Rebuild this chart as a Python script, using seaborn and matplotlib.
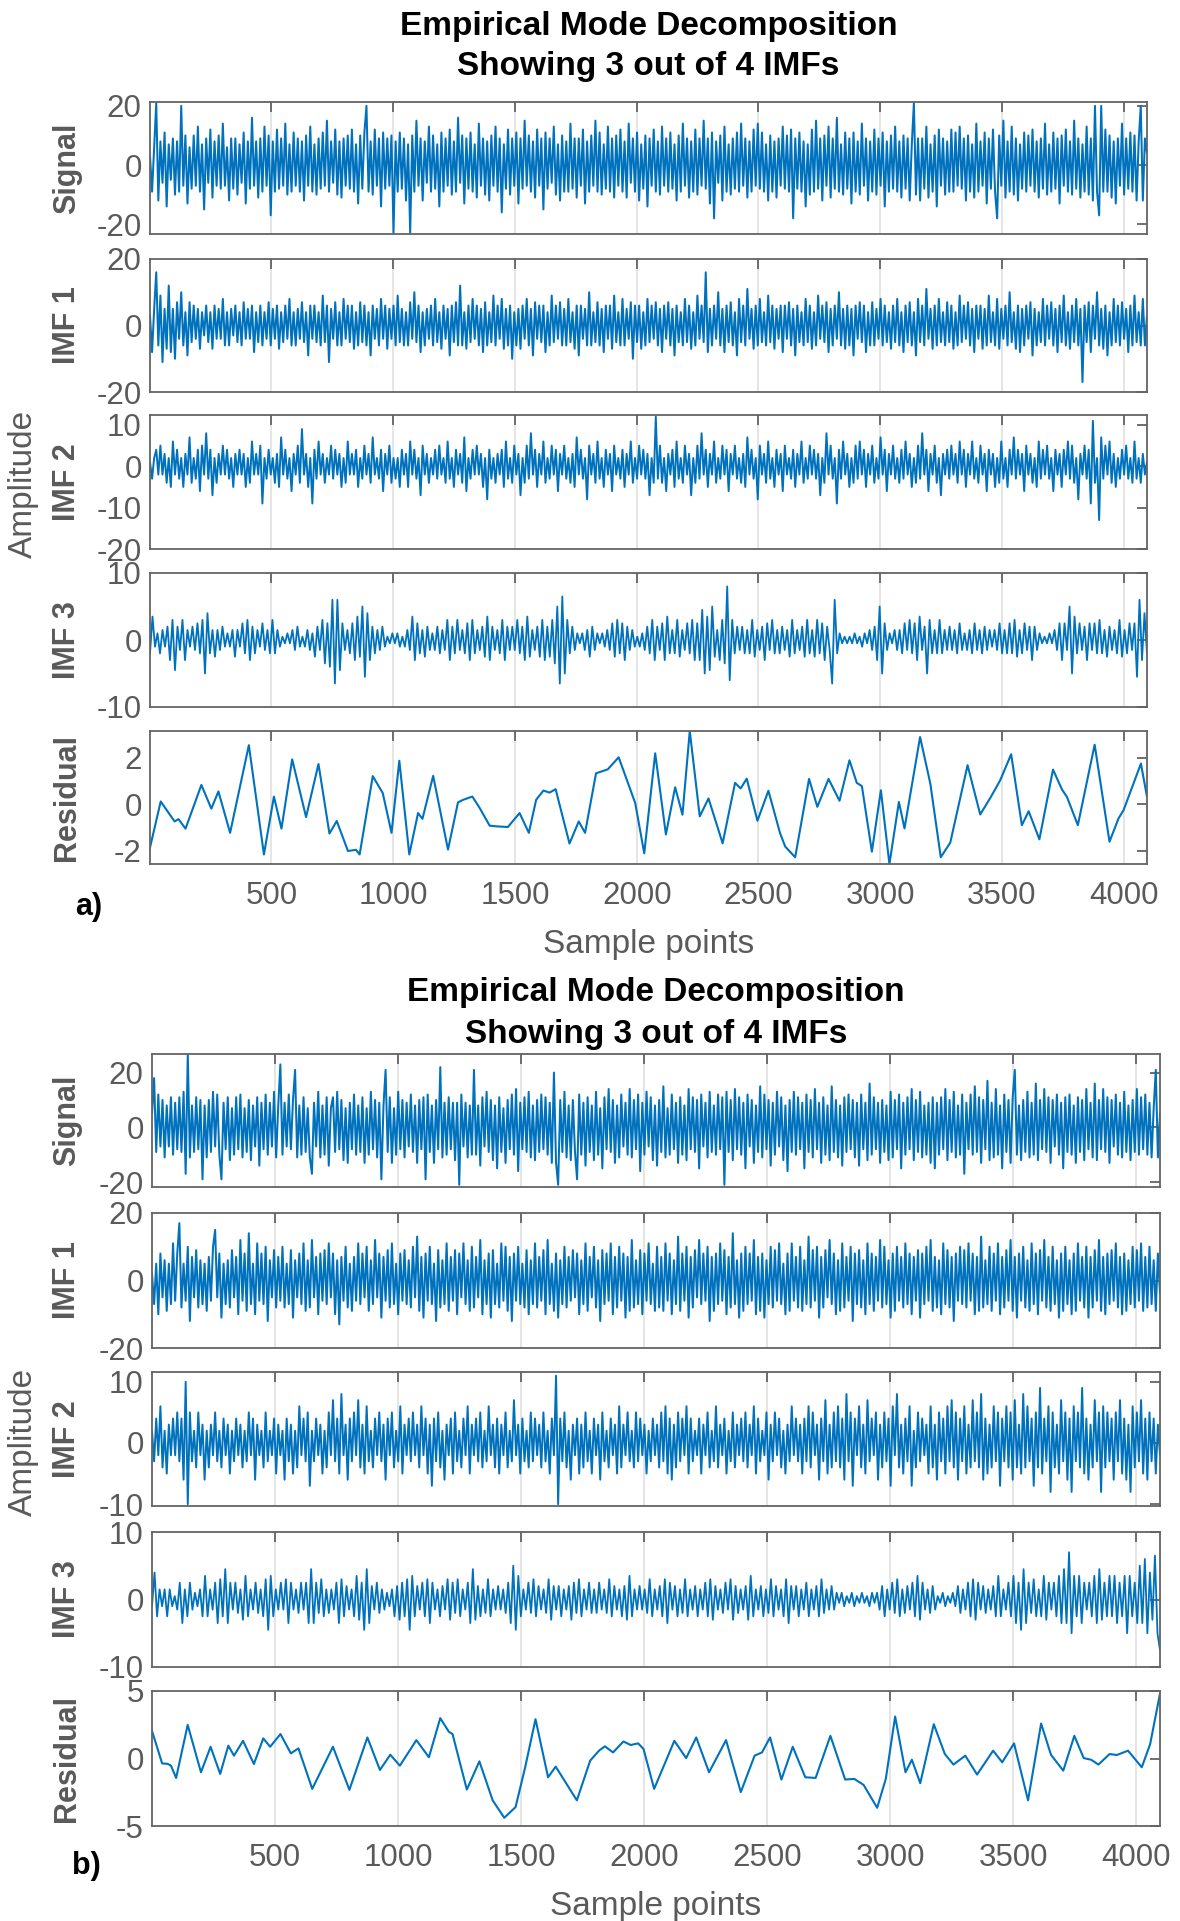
import numpy as np
import pandas as pd
import matplotlib
matplotlib.use("Agg")
import matplotlib.pyplot as plt
import seaborn as sns

# ---------------- data ----------------
N_SAMPLES = 4096
row_names = ["Signal", "IMF 1", "IMF 2", "IMF 3", "Residual"]
x_ticks = [500, 1000, 1500, 2000, 2500, 3000, 3500, 4000]
title_line1 = "Empirical Mode Decomposition"
title_line2 = "Showing 3 out of 4 IMFs"

# panel a)
sig_a = [3,-9,6,21,-12,8,-6,11,-14,7,-5,9,-10,8,-9,20,-7,10,-13,6,-8,10,-7,13,
         -9,7,-15,9,-6,12,-11,8,-7,10,-8,14,-7,6,-12,9,-8,9,-10,7,-6,11,-13,8,
         -8,16,-7,8,-11,9,-9,13,-7,10,-17,8,-9,12,-8,9,-7,14,-10,7,-9,11,-7,9,
         -9,8,-12,10,-7,13,-9,7,-10,9,-8,11,-7,15,-9,8,-6,12,-10,8,-11,9,-7,10,
         -8,12,-9,7,-13,10,-8,11,20,-9,8,-10,12,-7,9,-14,11,-8,9,-7,10,-23,8,-9,
         11,-8,9,-12,7,-23,10,-9,15,-7,9,-12,8,-6,13,-9,10,-8,7,-14,11,-9,9,-7,
         12,-10,8,-9,16,-6,10,-13,9,-8,11,-9,7,-11,14,-7,9,-10,8,-12,10,-7,13,-9,
         9,-16,7,-8,12,-10,9,-7,11,-13,9,-8,15,-7,10,-9,8,-11,12,-7,9,-15,11,-8,
         9,-6,13,-10,7,-12,10,-9,8,-9,14,-8,9,-11,9,-7,12,-13,8,-9,10,-7,15,-9,
         11,-10,7,-8,13,-9,9,-11,10,-7,12,-9,8,-11,14,-6,9,-9,11,-12,7,-8,10,-14,
         9,-7,12,-9,8,-10,13,-7,9,-9,11,-8,7,-12,10,-9,14,-7,9,-11,8,-9,12,-10,
         9,-7,15,-8,9,-13,11,-18,8,-6,10,-12,13,-9,7,-10,9,-8,11,-9,14,-7,9,-11,
         8,-9,12,-7,14,-8,11,-9,7,-12,10,-9,8,-11,9,-7,13,-8,10,-9,12,-18,9,-8,
         11,-9,8,-14,7,-10,12,-9,15,-8,9,-12,10,-7,13,-11,9,-8,16,-9,7,-10,11,-8,
         9,-13,11,-9,8,-10,14,-7,9,-12,8,-9,12,-10,9,-7,11,-14,8,-9,10,-8,13,-9,
         8,-11,10,-8,9,-12,7,21,-10,9,-12,9,-8,13,-11,7,-9,10,-14,12,-7,9,-10,8,
         -9,12,-9,11,-7,13,-8,9,-12,10,-9,7,-11,14,-9,8,-7,11,-13,9,-8,12,-9,-18,
         10,-7,15,-11,8,-9,13,-10,9,-12,7,-8,11,-9,10,-7,12,-9,8,-11,9,-8,14,-10,
         7,-9,11,-8,9,-13,10,-7,12,-9,8,-10,15,-8,9,-11,7,-9,13,-10,9,-12,20,-9,
         -17,20,-9,12,-9,10,-11,8,-13,9,-7,14,-10,9,-8,11,-9,10,-12,8,20,-12,9,4]
imf1_a = [3,-8,5,16,-6,9,-11,5,-7,12,-8,5,-10,7,-4,10,-6,4,-9,7,-5,6,-4,5,
          -7,4,-3,6,-5,4,-7,6,-4,5,-4,8,-6,4,-6,5,-3,6,-5,4,-6,7,-4,5,
          -4,6,-8,4,-5,6,-6,4,-4,7,-6,5,-4,6,-7,4,-5,6,-4,8,-6,4,-6,5,
          -4,7,-5,4,-9,6,-4,6,-5,4,-6,9,-5,6,-11,5,-4,7,-6,4,-6,8,-4,6,
          -5,6,-7,4,-6,7,-5,6,-6,4,-9,6,-4,5,-6,8,-4,6,-7,5,-4,6,-6,9,
          -5,5,-6,4,-6,7,-4,10,-5,6,-8,4,-6,5,-4,6,-6,8,-5,4,-7,6,-4,5,
          -9,6,-5,7,-6,12,-6,4,-7,6,-5,8,-4,6,-6,5,-8,7,-6,4,-5,9,-6,6,
          -4,8,-7,5,-6,6,-10,4,-6,5,-7,6,-4,8,-6,5,-9,7,-4,6,-5,6,-8,4,
          -6,9,-5,6,-4,7,-6,5,-6,8,-5,4,-7,6,-9,6,-4,5,-6,10,-6,4,-5,7,
          -6,5,-8,6,-4,6,-7,9,-5,4,-6,8,-6,5,-4,7,-10,6,-5,6,-7,4,-6,8,
          -5,6,-4,7,-6,5,-8,6,-4,7,-6,5,-9,6,-5,4,-6,8,-5,6,-7,4,-6,9,
          -4,6,-5,16,-8,5,-6,6,-4,10,-6,5,-8,6,-5,7,-6,4,-9,8,-5,6,-6,11,
          -4,5,-7,6,-6,8,-5,4,-6,9,-5,6,-7,5,-4,6,-8,6,-4,7,-6,5,-9,6,
          -5,4,-6,8,-5,6,-7,4,-6,9,-4,6,-5,7,-8,5,-6,6,-4,10,-6,5,-7,6,
          -6,5,-9,6,-4,7,-5,6,-8,4,-6,7,-6,5,-4,8,-6,6,-5,4,-7,6,-5,8,
          -6,4,-8,6,-5,7,-6,4,-9,8,-5,6,-6,11,-4,5,-7,6,-6,8,-5,4,-6,7,
          -5,6,-7,4,-6,9,-5,6,-4,7,-6,5,-8,6,-4,6,-7,5,-6,9,-5,4,-6,8,
          -7,5,-4,6,-6,10,-5,4,-7,6,-8,5,-6,6,-4,7,-9,5,-6,4,-5,8,-6,6,
          -4,7,-6,5,-8,6,-5,9,-6,4,-7,6,-5,8,-6,5,-17,6,-5,7,-8,6,-4,10,
          -6,5,-7,6,-9,4,-6,8,-5,6,-6,7,-4,5,-8,6,-6,9,-5,4,-6,8,-6,3]
imf2_a = [1,-3,2,4,-2,5,-2,3,-4,2,-5,6,-2,4,-3,2,-5,3,-2,7,-4,2,-3,4,
          -6,5,-2,8,-3,4,-7,2,-4,3,-2,5,-2,4,-3,2,-5,3,-2,4,-2,3,-5,2,
          -4,6,-2,3,-2,5,-9,2,-3,4,-2,2,-4,3,-5,7,-2,4,-3,2,-6,3,-2,5,
          -4,9,-2,3,-5,2,-9,4,-3,6,-2,3,-4,2,-2,5,-3,4,-2,3,-5,2,-4,6,
          -2,3,-2,4,-5,2,-3,5,-2,3,-4,7,-2,2,-3,4,-6,3,-2,5,-4,2,-3,2,
          -5,4,-2,3,-5,6,-2,4,-3,2,-7,5,-2,3,-4,2,-2,4,-3,5,-2,2,-4,6,
          -3,2,-5,4,-2,3,-4,7,-6,2,-3,4,-2,5,-2,3,-5,2,-8,4,-3,2,-4,3,
          -2,4,-5,6,-3,2,-4,5,-2,3,-7,2,-4,5,-3,8,-2,4,-5,3,-2,6,-4,2,
          -3,5,-2,4,-6,3,-2,5,-3,2,-4,3,-5,7,-2,4,-3,2,-8,5,-2,3,-4,6,
          -3,2,-5,4,-2,3,-6,5,-2,2,-3,4,-5,3,-2,6,-4,2,-3,5,-2,4,-3,3,
          -7,2,-4,12,-3,5,-4,2,-6,3,-2,4,-5,6,-3,2,-4,5,-2,3,-7,2,-4,5,
          -3,8,-2,4,-5,3,-2,6,-4,2,-3,5,-2,4,-6,3,-2,5,-3,2,-4,3,-5,7,
          -2,4,-3,2,-8,5,-2,3,-4,6,-3,2,-5,4,-2,3,-6,5,-2,2,-3,4,-5,3,
          -2,6,-4,2,-3,5,-2,4,-3,3,-7,2,-4,8,-2,5,-3,2,-9,4,-3,6,-2,3,
          -5,2,-4,5,-3,6,-2,4,-5,3,-2,5,-4,2,-3,7,-2,4,-6,3,-2,5,-3,2,
          -4,4,-3,6,-2,3,-5,2,-4,5,-3,8,-2,4,-6,3,-2,5,-4,2,-7,3,-2,4,
          -3,5,-2,3,-4,6,-2,4,-5,3,-2,6,-3,2,-4,5,-2,3,-6,4,-2,3,-5,2,
          -4,6,-3,2,-5,4,-2,7,-3,4,-2,3,-6,5,-2,3,-4,2,-5,6,-3,4,-2,5,
          -3,2,-6,4,-2,3,-5,4,-2,6,-3,5,-4,2,-8,3,-2,5,-3,4,-9,11,-4,2,
          -13,7,-3,5,-2,6,-4,3,-5,2,-3,4,-2,5,-3,2,-4,6,-3,2,-4,3,-2,1]
imf3_a = [-2,3.5,-1,1,-2,1.5,-1,2,-3,3,-4.5,2,-1.5,3,-3,1.5,-1,2,-1.5,2.5,
          -2,3,-5,4,-2,1.5,-2.5,1.5,-1.5,2,-1,1,-1,1.5,-2.5,1.5,-1,2.5,-2,3,
          -3,2,-2,1.5,-1,2.5,-1.5,1.5,-2,3,-2,1.5,-1,0.5,-0.5,1,-0.5,1.5,-1.5,2,
          -1,0.5,-1,1.5,-1.5,1,-2.5,2,-1.5,3,-3.5,2.5,-4,6,-6.5,6,-4.5,2.5,-1.5,1.5,
          -2,2.5,-3,3.5,-2.5,5,-5.5,4,-3,2,-2,1.5,-1.5,2,-1,0.5,-0.5,1,-0.5,1,
          -1,0.5,-1,1.5,-1.5,3.5,-3,2.5,-2,1.5,-2.5,2,-1.5,1,-1.5,2,-2,1.5,-1.5,3,
          -3,2,-2,3,-1.5,1.5,-2,2.5,-3,3,-2,1.5,-1.5,2,-2.5,3.5,-3,2,-1.5,1.5,
          -2,3,-3,2,-1.5,2,-1.5,3,-2,2,-3,3.5,-2.5,1.5,-1.5,2,-2.5,3,-3,2,
          -2.5,3,-3.5,5,-6.5,6.5,-5,3,-2,2,-1.5,1,-0.5,1,-1.5,1.5,-2.5,2,-1.5,1,
          -0.5,1,-1,1.5,-1.5,2.5,-2.5,3,-2,2.5,-3,2,-1.5,1.5,-1,0.5,-1,1,-1.5,2,
          -2,3,-3,2,-1.5,2.5,-3,3.5,-2,1.5,-2,3,-2.5,1.5,-1.5,2.5,-2,3,-3,2.5,
          -3,4.5,-5,3.5,-4.5,5,-2.5,1.5,-3,3,-3.5,8,-6,3,-2,2,-1.5,2,-2,1.5,
          -2,3,-2.5,1.5,-1.5,2,-3,2.5,-1.5,3,-2,1.5,-2,2,-1.5,1.5,-2.5,3,-2,1.5,
          -1.5,2,-2.5,3,-2,1.5,-2.5,3,-2,2.5,-3,2,-1.5,-6.5,6,-2,1,-0.5,0.5,-0.5,
          0.5,-0.5,1,-0.5,0.5,-1,1,-0.5,1.5,-1.5,2,-3,5,-5,2.5,-1.5,1,-0.5,1.5,-1.5,
          1.5,-2,2.5,-1.5,3,-2,2.5,-3,3.5,-1.5,2,-5,3,-2,1.5,-2,3,-2,1.5,-1.5,
          2,-1.5,1.5,-2,2.5,-1.5,1,-1.5,1.5,-2,2.5,-1.5,1.5,-2,2,-1.5,1.5,-1,1.5,-1.5,
          2.5,-2,1.5,-2,2.5,-2,3,-2.5,1.5,-2,2.5,-1.5,2,-3,2,-1.5,1,-0.5,0.5,-0.5,
          1,-0.5,1.5,-1.5,2.5,-3,2.5,-1.5,5,-5,3.5,-2,2.5,-1.5,2,-3,2.5,-1.5,2.5,-2,
          3,-2,1.5,-2.5,2,-1.5,1.5,-2,3,-2.5,1.5,-2,2.5,-1.5,2.5,-5.5,6,-3,4,-2]
res_a_x = [0,45,102,118,147,212,253,282,330,407,
           469,510,541,585,642,693,738,768,814,847,
           862,916,957,993,1025,1066,1102,1120,1164,1225,
           1266,1287,1325,1355,1396,1423,1471,1519,1557,1587,
           1617,1642,1667,1724,1762,1788,1833,1881,1926,1994,
           2031,2076,2120,2158,2188,2218,2259,2295,2353,2404,
           2427,2452,2496,2541,2589,2610,2651,2708,2742,2788,
           2833,2874,2904,2925,2966,3003,3038,3077,3100,3164,
           3206,3249,3288,3359,3411,3455,3493,3538,3582,3610,
           3654,3710,3747,3767,3812,3881,3942,3979,4000,4071,4096]
res_a_y = [-1.9,0.13,-0.73,-0.63,-1.04,0.84,-0.18,0.56,-1.22,2.55,
           -2.15,0.34,-1.04,1.94,-0.54,1.74,-1.25,-0.71,-2.0,-1.95,
           -2.15,1.22,0.49,-1.22,1.88,-2.15,-0.37,-0.62,1.23,-1.94,
           0.09,0.2,0.34,-0.15,-0.91,-0.94,-0.97,-0.37,-1.22,0.2,
           0.6,0.51,0.66,-1.68,-0.73,-1.22,1.34,1.51,2.03,0.06,
           -2.1,2.2,-1.29,0.74,-0.44,3.16,-0.51,0.26,-1.67,0.93,
           0.69,1.11,-0.7,0.59,-1.24,-1.81,-2.27,1.1,-0.1,1.1,
           0.16,1.9,0.93,0.79,-2.03,0.61,-2.56,0.11,-1.03,2.9,
           0.9,-2.27,-1.64,1.69,-0.43,0.33,1.04,2.16,-0.89,-0.29,
           -1.5,1.5,0.64,0.33,-0.89,2.57,-1.6,-0.6,-0.24,1.76,0.33]

# panel b)
sig_b = [5,18,-9,12,-7,10,-11,8,-7,11,-10,9,-8,11,-9,13,-17,27,-11,8,-9,11,-8,10,
         -19,8,-11,10,-9,13,-7,12,-10,-19,9,-8,11,-12,7,-10,11,-8,12,-11,7,-9,10,-12,
         8,-7,11,-14,9,-8,12,-10,9,-7,13,-11,8,23,-10,9,-7,12,-8,10,21,-11,8,-10,
         11,-9,7,-11,-17,9,-7,13,-11,8,-10,11,-14,7,11,-9,13,-8,10,-12,7,-13,9,-8,
         12,-10,8,-9,11,-13,7,-10,13,-8,10,-11,9,-19,8,21,-9,11,-13,7,-10,13,-8,10,
         -11,9,-7,12,-9,8,-13,10,-8,11,-19,12,-9,8,-13,10,-8,22,-11,9,-10,11,-8,9,
         -12,9,-21,12,-7,9,-11,8,-10,21,-10,8,-14,11,-7,13,-9,10,-12,8,-15,11,-9,7,
         -13,10,-8,12,-10,14,-16,9,-8,11,-9,13,-11,8,-12,10,-9,12,-8,11,-10,9,-13,20,
         -13,-21,10,-9,13,-11,8,-12,10,-9,-19,12,-10,9,-14,11,-9,8,-12,13,-10,7,-15,11,
         -8,14,-9,10,-13,8,-11,12,-7,9,-10,14,-11,10,-8,12,-16,9,-10,13,-7,11,-12,8,
         -14,10,-9,15,-11,7,-10,12,-8,9,-13,11,-10,8,-12,14,-8,11,-9,10,-15,12,-7,9,
         -11,13,-9,8,-10,12,-8,11,-21,13,-9,10,-12,14,-8,11,-10,9,-15,12,-7,10,-13,8,
         -9,15,-11,12,-8,10,-14,9,-10,13,-7,11,-12,8,-16,10,-9,13,-10,11,-8,9,-15,12,
         -9,10,-11,14,-8,9,-13,11,-10,8,-12,15,-9,10,-11,8,-14,11,-9,12,-8,10,-11,9,
         -14,12,-8,9,-12,16,-10,11,-8,9,-13,10,-9,8,-12,13,-11,10,-8,12,-15,9,-10,11,
         -8,14,-12,10,-9,13,-11,8,-10,9,-13,11,-15,9,-10,11,-8,14,-12,10,-9,13,-11,8,
         -10,12,-17,9,-8,12,-10,15,-9,11,-13,10,-8,17,-12,9,-11,14,-10,8,-15,12,-9,10,
         -13,11,21,-10,8,-12,10,-9,13,-11,9,-10,16,-12,10,-8,14,-9,11,-13,10,-7,12,-10,
         9,-15,11,-9,12,-10,8,-13,11,-9,10,-12,14,-8,9,-11,16,-12,10,-8,14,-9,11,-13,
         10,-7,12,-10,9,-11,13,-9,8,-12,10,-9,14,-10,11,-8,12,-10,9,-11,7,21,-11,5]
imf1_b = [2,-7,5,-10,8,-5,6,-9,5,-7,11,-6,8,17,-8,5,-6,10,-12,7,-5,9,-8,6,
          -7,5,-9,7,-6,10,15,-5,8,-11,5,-7,6,-8,9,-5,7,-10,12,-6,8,-9,14,-7,
          5,-10,11,-6,8,-7,10,-12,6,-5,9,-8,7,-6,10,-8,5,-7,9,-11,6,-5,8,-7,
          11,-9,6,-8,12,-5,7,-10,8,-6,9,-7,11,-5,8,-10,6,-13,7,-6,10,-8,5,-9,
          7,-6,11,-7,8,-5,10,-9,6,-7,12,-5,8,-11,7,-6,9,-8,11,-7,5,-10,8,-6,
          9,-7,6,-8,10,-5,13,-9,7,-11,8,-6,10,-7,5,-12,9,-8,6,-7,11,-9,7,-6,
          9,-10,8,-5,11,-7,6,-9,10,-8,7,-5,12,-10,6,-7,8,-11,9,-7,5,-8,11,-6,
          10,-9,7,-12,8,-6,10,-7,5,-8,9,-10,6,-7,11,-8,7,-6,9,-10,12,-7,5,-9,
          8,-11,6,-7,10,-8,7,-6,9,-5,8,-10,6,-7,11,-9,7,-5,10,-8,6,-12,9,-7,
          8,-6,11,-10,7,-8,10,-6,8,-11,7,-9,12,-8,6,-7,9,-10,8,-6,11,-7,5,-9,
          10,-8,7,-9,11,-6,8,-10,6,-7,13,-9,8,-6,10,-11,7,-8,9,-5,12,-7,8,-6,
          10,-12,7,-9,8,-7,11,-6,9,-10,7,-8,14,-7,6,-11,8,-9,10,-7,8,-6,12,-10,
          7,-9,8,-11,6,-7,10,-8,9,-6,11,-7,5,-10,8,-9,11,-6,7,-8,10,-9,6,-7,
          13,-8,9,-6,10,-11,7,-8,9,-5,12,-7,8,-10,6,-9,11,-8,7,-6,10,-12,8,-7,
          9,-8,6,-10,11,-7,8,-9,7,-6,12,-8,10,-7,6,-11,8,-9,10,-6,7,-8,11,-7,
          8,-10,7,-6,9,-11,8,-7,10,-6,12,-9,7,-8,6,-10,11,-7,9,-8,7,-12,8,-6,
          10,-7,9,-8,11,-6,8,-10,7,-9,13,-8,6,-7,10,-9,8,-6,11,-10,7,-8,9,-6,
          12,-9,7,-11,8,-6,10,-8,6,-9,11,-7,8,-10,9,-6,12,-8,7,-9,10,-7,6,-11,
          8,-9,10,-7,6,-10,8,-9,11,-6,7,-8,10,-11,7,-8,9,-6,12,-9,7,-10,8,-7,
          9,-6,11,-8,7,-10,8,-9,6,-7,10,-8,9,-6,11,-9,7,-8,10,-7,6,-9,8,-4]
imf2_b = [2,-3,4,-2,6,-4,2,-5,3,-2,4,-2,5,-3,4,-6,10,-10,5,-3,2,-4,5,-2,
          3,-6,2,-4,3,-2,5,-3,2,-4,4,-2,3,-5,2,-3,4,-2,3,-4,2,-3,5,-2,
          4,-6,3,-2,2,-4,5,-3,2,-2,4,-5,3,-2,2,-6,4,-3,3,-5,2,-4,6,-2,
          4,-3,5,-7,2,-3,4,-2,3,-5,2,-4,5,-2,7,-3,4,-5,8,-2,3,-6,4,-3,
          5,-2,7,-4,3,-5,6,-3,2,-4,4,-2,5,-3,3,-6,4,-2,5,-4,2,-3,6,-5,
          3,-2,4,-3,5,-2,3,-4,6,-2,4,-5,3,-7,4,-3,5,-4,2,-6,3,-2,4,-5,
          5,-3,2,-4,4,-2,6,-5,3,-2,4,-3,5,-4,2,-3,6,-2,3,-4,4,-5,3,-2,
          5,-4,2,-3,7,-2,3,-5,4,-3,2,-4,5,-3,4,-2,3,-4,5,-3,2,-5,4,-2,
          11,-10,4,-3,5,-4,2,-6,3,-2,4,-5,3,-4,5,-3,2,-5,4,-2,3,-6,5,-3,
          2,-4,4,-2,3,-5,6,-4,3,-2,5,-3,2,-4,5,-3,4,-2,3,-5,2,-3,4,-2,
          3,-4,5,-3,6,-5,4,-6,3,-4,5,-3,4,-2,6,-5,4,-3,2,-2,4,-5,3,-2,
          5,-4,2,-3,6,-4,3,-2,4,-5,2,-3,5,-4,3,-2,4,-3,5,-4,3,-2,6,-5,
          4,-3,2,-2,5,-6,3,-3,5,-2,4,-4,2,-5,3,-3,6,-2,4,-3,3,-5,4,-3,
          6,-4,5,-2,3,-6,4,-3,7,-5,3,-4,5,-3,6,-4,4,-6,8,-3,5,-7,4,-2,
          6,-4,3,-5,7,-3,4,-2,5,-6,3,-4,5,-3,4,-7,6,-2,8,-4,3,-5,4,-3,
          6,-7,2,-4,5,-3,4,-2,3,-5,6,-4,3,-6,5,-3,4,-5,6,-3,7,-4,5,-6,
          4,-3,6,-5,3,-4,7,-3,5,-4,8,-6,4,-5,3,-4,6,-3,5,-7,4,-3,6,-4,
          5,-6,7,-4,3,-5,8,-4,6,-3,4,-7,5,-4,9,-5,4,-3,6,-8,5,-4,3,-5,
          7,-3,5,-6,4,-8,6,-3,5,-4,9,-5,4,-6,3,-4,7,-3,5,-8,6,-4,5,-3,
          4,-6,5,-3,7,-5,4,-6,3,-8,6,-4,5,-3,7,-5,4,-6,5,-3,4,-5,3,-2]
imf3_b = [-1,4,-2.5,1.5,-1,1.5,-2.5,1.5,-1,0.5,-1.5,2.5,-3.5,1.5,-2.5,2.5,-1.5,1,-1,1.5,
          -2.5,3.5,-2.5,1.5,-1.5,2.5,-3.5,3,-2.5,4.5,-3.5,2.5,-1.5,2.5,-2,1.5,-3,3.5,-2.5,1.5,
          -1.5,2.5,-2,1.5,-2.5,3,-4.5,3.5,-2.5,1.5,-1.5,2.5,-1.5,3,-3.5,2.5,-1.5,1.5,-2,2.5,
          -1.5,2.5,-3.5,4.5,-3.5,2.5,-2,3,-2.5,1.5,-2,1.5,-1.5,2.5,-3.5,3,-2.5,2,-1.5,1.5,
          -2.5,3.5,-3,2.5,-4.5,4.5,-3.5,2,-1.5,2.5,-2,1.5,-1.5,1,-1,1.5,-2.5,2,-3,2.5,
          -2.5,3,-4.5,3.5,-2.5,2,-1.5,2.5,-2.5,3,-3.5,2.5,-1.5,1.5,-2.5,2,-1.5,3,-3,2.5,
          -2,3,-2.5,1.5,-1.5,2.5,-3.5,4.5,-3,2,-2.5,1.5,-2,3,-2.5,1.5,-1.5,2,-1.5,1.5,
          -2,2.5,-3.5,5,-4.5,3.5,-2.5,1.5,-1.5,2.5,-2,3,-2.5,2,-1.5,1.5,-2,3,-3,2,
          -1.5,2,-2.5,1.5,-1.5,2,-3,2.5,-2,3,-2.5,1.5,-1.5,2.5,-2,1.5,-2,2.5,-1.5,1.5,
          -2,3,-2.5,2,-1.5,1.5,-2.5,2,-3,3.5,-2.5,1.5,-1.5,2,-1.5,1.5,-2,3,-2.5,1.5,
          -1.5,2,-2.5,3,-3.5,2.5,-1.5,2,-2.5,1.5,-2,3,-2.5,1.5,-1.5,2,-2.5,1.5,-1.5,2.5,
          -2.5,3,-3,2,-1.5,1.5,-2,2.5,-1.5,3,-3,2,-2,1.5,-1.5,2,-3,3.5,-2.5,1.5,
          -1.5,2,-2.5,1.5,-2,3,-2.5,2,-1.5,1.5,-2.5,3,-3.5,2,-1.5,2,-2.5,1.5,-1.5,2.5,
          -2.5,1.5,-1.5,2,-2.5,3,-2,1.5,-1.5,2,-1.5,1,-0.5,1,-1,0.5,-0.5,1,-1,0.5,
          -0.5,1,-0.5,0.5,-1,1,-0.5,1,-1.5,2,-2.5,1.5,-1.5,2.5,-2,3,-2.5,1.5,-2,2,
          -1.5,2.5,-2.5,3.5,-3,2.5,-1.5,1.5,-2,2,-1.5,0.5,-0.5,1,-1,0.5,-0.5,1,-1,2,
          -2,1.5,-1.5,2.5,-2.5,3,-3,2.5,-1.5,2,-2,1.5,-1.5,2,-2.5,3.5,-2.5,1.5,-1.5,2.5,
          -2.5,3.5,-3.5,2.5,-4.5,4.5,-3.5,2.5,-2,3,-2.5,1.5,-2.5,3.5,-3,2.5,-1.5,2.5,-2.5,3.5,
          -3.5,4.5,-3.5,7,-5,3.5,-2.5,3.5,-3.5,2.5,-1.5,2.5,-2.5,3.5,-3.5,4.5,-3,2.5,-2.5,3.5,
          -2.5,3.5,-3.5,2.5,-2.5,3.5,-5,3.5,-2.5,2.5,-3.5,5,-3.5,6,-5,4,-3,6.5,-5,-7.5]
res_b_x = [0,22,42,65,78,99,146,200,239,278,
           311,334,371,415,453,481,523,565,596,652,
           736,803,876,927,969,1008,1075,1126,1172,1207,
           1222,1280,1331,1385,1432,1478,1517,1559,1610,1641,
           1727,1781,1818,1841,1874,1916,1946,1976,1998,2041,
           2123,2171,2212,2264,2333,2393,2449,2479,2512,2558,
           2604,2655,2697,2757,2817,2854,2892,2947,2982,3020,
           3062,3088,3122,3177,3222,3257,3305,3353,3418,3455,
           3503,3560,3613,3653,3703,3748,3786,3816,3846,3891,
           3921,3966,4022,4056,4096]
res_b_y = [2.1,0.82,-0.36,-0.4,-0.53,-1.44,2.49,-1.02,0.87,-1.14,
           0.95,0.21,1.31,-0.41,1.49,0.87,1.81,0.38,0.75,-2.25,
           0.87,-2.32,1.56,-0.85,0.28,-0.53,1.36,0.09,2.99,1.98,
           1.81,-2.3,-0.21,-3.1,-4.39,-3.6,-0.65,2.91,-1.39,-0.6,
           -3.1,-0.16,0.6,0.9,0.45,1.26,1.0,1.12,0.7,-2.25,
           1.31,0.03,1.56,-1.02,1.36,-2.49,0.21,0.45,1.56,-1.56,
           0.87,-1.39,-1.44,1.68,-1.56,-1.51,-1.96,-3.65,-1.51,3.11,
           -1.02,-0.09,-1.83,2.54,0.33,-0.45,0.21,-1.19,0.58,-0.28,
           1.12,-3.1,2.59,0.28,-0.9,1.68,0.03,-0.09,-0.45,0.33,
           0.26,0.58,-0.65,1.07,4.8]

# y-axis limits and ticks per row
ylims_a = [(-23.3, 21.3), (-20, 20), (-20, 12.4), (-10, 10), (-2.56, 3.16)]
yticks_a = [[-20, 0, 20], [-20, 0, 20], [-20, -10, 0, 10], [-10, 0, 10], [-2, 0, 2]]
ylims_b = [(-21.8, 26.8), (-20, 20), (-10.3, 11.6), (-10, 10), (-5, 5)]
yticks_b = [[-20, 0, 20], [-20, 0, 20], [-10, 0, 10], [-10, 0, 10], [-5, 0, 5]]

# ---------------- styling ----------------
sns.set_theme(style="white")
plt.rcParams['font.family'] = ['Liberation Sans', 'DejaVu Sans']

LINE = "#0072BD"
FRAME = "#636363"
TXT = "#5a5a5a"
GRID = "#e3e3e3"
LW = [1.45, 1.45, 1.4, 1.3, 1.5]

W, H = 1180, 1921
fig = plt.figure(figsize=(W / 100, H / 100), dpi=100)
fig.patch.set_facecolor("white")


def series_frame(values):
    xs = np.linspace(1, N_SAMPLES, len(values))
    return pd.DataFrame({"x": xs, "y": values})


def draw_panel(series, ylims, yticks, left_px, right_px, rows_px, title_y, amp_xy, xlabel_y, tag, tag_xy):
    for i, (name, data) in enumerate(zip(row_names, series)):
        top, bot = rows_px[i]
        ax = fig.add_axes([left_px / W, 1 - bot / H, (right_px - left_px) / W, (bot - top) / H])
        if isinstance(data, tuple):
            df = pd.DataFrame({"x": data[0], "y": data[1]})
        else:
            df = series_frame(data)
        sns.lineplot(data=df, x="x", y="y", ax=ax, color=LINE, linewidth=LW[i],
                     sort=False, estimator=None)
        ax.set_xlim(1, N_SAMPLES)
        ax.set_ylim(*ylims[i])
        ax.set_yticks(yticks[i])
        ax.set_yticklabels([str(t) for t in yticks[i]])
        ax.set_xticks(x_ticks)
        ax.xaxis.grid(True, color=GRID, linewidth=1.3)
        ax.yaxis.grid(False)
        ax.set_axisbelow(True)
        for sp in ax.spines.values():
            sp.set_color(FRAME)
            sp.set_linewidth(1.3)
        ax.tick_params(axis="both", direction="in", length=7, width=1.3, color=FRAME,
                       top=True, right=True, labelsize=22.5, labelcolor=TXT)
        ax.tick_params(axis="y", pad=6)
        ax.tick_params(axis="x", pad=12)
        if i < len(row_names) - 1:
            ax.set_xticklabels([])
        else:
            ax.set_xticklabels([str(t) for t in x_ticks])
        ax.set_xlabel("")
        ax.set_ylabel(name, fontsize=22, fontweight="bold", color=TXT)
        ax.yaxis.set_label_coords((82 - left_px) / (right_px - left_px), 0.5)
    cx = (left_px + right_px) / 2 / W
    fig.text(cx, 1 - title_y[0] / H, title_line1, ha="center", va="center",
             fontsize=24, fontweight="bold", color="black")
    fig.text(cx, 1 - title_y[1] / H, title_line2, ha="center", va="center",
             fontsize=24, fontweight="bold", color="black")
    fig.text(amp_xy[0] / W, 1 - amp_xy[1] / H, "Amplitude", rotation=90, ha="center", va="center",
             fontsize=24, color=TXT)
    fig.text(cx, 1 - xlabel_y / H, "Sample points", ha="center", va="center", fontsize=24, color=TXT)
    fig.text(tag_xy[0] / W, 1 - tag_xy[1] / H, tag, ha="center", va="center",
             fontsize=22, fontweight="bold", color="black")


draw_panel([sig_a, imf1_a, imf2_a, imf3_a, (res_a_x, res_a_y)], ylims_a, yticks_a,
           150, 1147, [(102, 234), (259, 392), (415, 549), (573, 707), (731, 864)],
           (27, 67), (23, 484), 944, "a)", (89, 907))
draw_panel([sig_b, imf1_b, imf2_b, imf3_b, (res_b_x, res_b_y)], ylims_b, yticks_b,
           152, 1160, [(1054, 1187), (1213, 1348), (1372, 1506), (1532, 1667), (1691, 1826)],
           (992, 1035), (23, 1442), 1906, "b)", (86, 1866))

fig.savefig("out.png", dpi=100, facecolor="white")
